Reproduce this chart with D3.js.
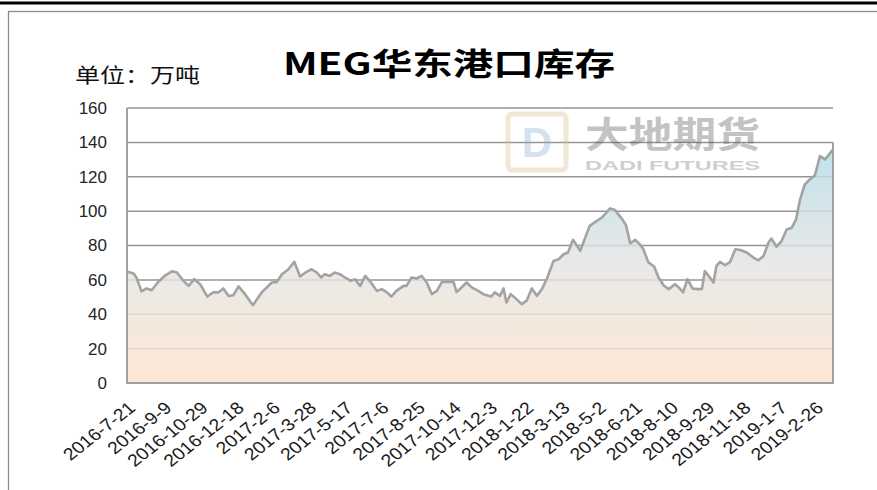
<!DOCTYPE html>
<html>
<head>
<meta charset="utf-8">
<script src="https://cdn.jsdelivr.net/npm/d3@7"></script>
<style>
  body { margin: 0; background: #fff; }
  svg { display: block; font-family: "Liberation Sans", "Noto Sans CJK SC", sans-serif; }
</style>
</head>
<body>
<script>
// MEG east china port inventory, 10k tons
var dates = [
  "2016-7-21","2016-7-30","2016-8-3","2016-8-10","2016-8-17","2016-8-24","2016-9-2","2016-9-11",
  "2016-9-21","2016-9-28","2016-10-7","2016-10-14","2016-10-22","2016-10-30","2016-11-9","2016-11-17",
  "2016-11-24","2016-12-1","2016-12-8","2016-12-15","2016-12-22","2016-12-31","2017-1-11","2017-1-23",
  "2017-2-6","2017-2-13","2017-2-20","2017-3-1","2017-3-9","2017-3-17","2017-3-26","2017-4-2",
  "2017-4-9","2017-4-15","2017-4-20","2017-4-27","2017-5-4","2017-5-11","2017-5-18","2017-5-26",
  "2017-6-1","2017-6-8","2017-6-15","2017-6-22","2017-7-1","2017-7-8","2017-7-15","2017-7-21",
  "2017-7-28","2017-8-7","2017-8-11","2017-8-18","2017-8-25","2017-9-1","2017-9-8","2017-9-15",
  "2017-9-22","2017-9-29","2017-10-8","2017-10-15","2017-10-19","2017-10-26","2017-11-2","2017-11-9",
  "2017-11-18","2017-11-25","2017-12-6","2017-12-11","2017-12-18","2017-12-23","2017-12-27","2018-1-2",
  "2018-1-10","2018-1-17","2018-1-24","2018-1-31","2018-2-7","2018-2-14","2018-2-21","2018-3-2",
  "2018-3-9","2018-3-16","2018-3-22","2018-3-29","2018-4-8","2018-4-14","2018-4-21","2018-5-1",
  "2018-5-8","2018-5-19","2018-5-26","2018-6-4","2018-6-10","2018-6-16","2018-6-23","2018-6-29",
  "2018-7-4","2018-7-11","2018-7-19","2018-7-25","2018-8-1","2018-8-8","2018-8-17","2018-8-22",
  "2018-8-28","2018-9-3","2018-9-10","2018-9-17","2018-9-23","2018-9-27","2018-10-4","2018-10-9",
  "2018-10-13","2018-10-18","2018-10-25","2018-11-1","2018-11-8","2018-11-15","2018-11-24","2018-12-3",
  "2018-12-10","2018-12-17","2018-12-24","2018-12-28","2019-1-4","2019-1-11","2019-1-18","2019-1-25",
  "2019-1-31","2019-2-5","2019-2-12","2019-2-19","2019-2-26","2019-3-5","2019-3-12","2019-3-23"
];
var stock = [
  64.9,63.7,61.4,53.3,55,54,58.8,62.3,
  65,64.3,59.4,56.5,60.4,57.5,50.3,52.7,
  52.7,55,50.7,51.1,56.2,51.7,45.3,52.7,
  58.5,58.8,63.3,66.2,70.5,62,64.7,66.2,
  64.3,61.4,63.3,62.3,64.3,63.3,61.4,59.4,
  60.4,56.5,62.3,59,53.6,54.6,52.7,50.3,
  53.6,56.5,56.5,61.4,60.8,62.3,58.5,51.7,
  53.6,58.8,58.8,58.8,53,55.6,58.5,55.6,
  53.6,51.7,50.3,52.7,50.7,55,46.9,51.7,
  48.8,45.9,47.9,55,50.7,54.6,60.8,71,
  72,74.9,75.9,83.3,76.9,83.7,91.4,94.4,
  96.3,101.6,100.6,95.8,92,81.3,83.3,80.8,
  77.9,70.2,67.8,61.4,56.9,54.6,57.5,55.6,
  52.7,60.4,55,54.6,54.6,65.2,61.4,58.5,
  68.1,70.5,68.5,70.5,77.8,77.4,75.9,73,
  71.4,73.9,81.7,84,79.3,82.6,89.3,90.3,
  95.2,105.9,115.5,118.4,120.8,132,130.1,135.8
];
var tickLabels = ["2016-7-21","2016-9-9","2016-10-29","2016-12-18","2017-2-6","2017-3-28","2017-5-17",
  "2017-7-6","2017-8-25","2017-10-14","2017-12-3","2018-1-22","2018-3-13","2018-5-2","2018-6-21",
  "2018-8-10","2018-9-29","2018-11-18","2019-1-7","2019-2-26"];
var yTicks = [0, 20, 40, 60, 80, 100, 120, 140, 160];

var w = 877, h = 490;
var plotL = 127, plotR = 833, plotT = 108, plotB = 383;
var parse = d3.timeParse("%Y-%m-%d");

var svg = d3.select("body").append("svg")
  .attr("width", w)
  .attr("height", h);

// frame
svg.append("line")
  .attr("x1", 0).attr("x2", w).attr("y1", 3).attr("y2", 3)
  .style("stroke", "#000").style("stroke-width", 3);
svg.append("rect")
  .attr("x", 8.5).attr("y", 11.5).attr("width", w + 10).attr("height", h)
  .style("fill", "none").style("stroke", "#8c8c8c").style("stroke-width", 1.3);

var x = d3.scaleTime()
  .domain([parse(dates[0]), parse(dates[dates.length - 1])])
  .range([plotL, plotR]);
var y = d3.scaleLinear()
  .domain([0, 160])
  .range([plotB, plotT]);

var data = dates.map(function(d, i){ return {date: parse(d), v: stock[i]}; });

// gradient fill
var grad = svg.append("defs").append("linearGradient")
  .attr("id", "fillGrad")
  .attr("gradientUnits", "userSpaceOnUse")
  .attr("x1", 0).attr("x2", 0)
  .attr("y1", y(140)).attr("y2", y(0));
grad.append("stop").attr("offset", "0").attr("stop-color", "#b2dae8");
grad.append("stop").attr("offset", "0.55").attr("stop-color", "#e7e5e2");
grad.append("stop").attr("offset", "1").attr("stop-color", "#fde2cb");

// gridlines
svg.append("g").selectAll("line")
  .data(yTicks.slice(1))
  .enter().append("line")
  .attr("x1", plotL).attr("x2", plotR)
  .attr("y1", function(d){ return y(d); })
  .attr("y2", function(d){ return y(d); })
  .style("stroke", "#959595")
  .style("stroke-width", 1.5);

// area
svg.append("path")
  .datum(data)
  .attr("d", d3.area()
    .x(function(d){ return x(d.date); })
    .y0(y(0))
    .y1(function(d){ return y(d.v); }))
  .style("fill", "url(#fillGrad)")
  .style("opacity", 0.82);

// line
svg.append("path")
  .datum(data)
  .attr("d", d3.line()
    .x(function(d){ return x(d.date); })
    .y(function(d){ return y(d.v); }))
  .style("fill", "none")
  .style("stroke", "#a3a3a3")
  .style("stroke-width", 2.6)
  .style("stroke-linejoin", "round");

// plot border (left, bottom, right)
svg.append("path")
  .attr("d", "M" + plotL + "," + plotT + "V" + plotB + "H" + plotR + "V" + y(140))
  .style("fill", "none")
  .style("stroke", "#a0a0a0")
  .style("stroke-width", 2);

// y axis labels
var yAxis = d3.axisLeft(y).tickValues(yTicks).tickSize(0).tickPadding(20);
var ya = svg.append("g")
  .attr("transform", "translate(" + plotL + ",0)")
  .call(yAxis);
ya.select(".domain").remove();
ya.selectAll("text")
  .style("font-size", "17px")
  .style("fill", "#262626")
  .style("font-family", "'Liberation Sans', sans-serif");

// x axis labels
svg.append("g").selectAll("text")
  .data(tickLabels)
  .enter().append("text")
  .attr("transform", function(d){
    return "translate(" + (x(parse(d)) + 5) + "," + (plotB + 22) + ") scale(1.15,1) rotate(-42)";
  })
  .attr("text-anchor", "end")
  .attr("dy", "0.35em")
  .style("font-size", "17px")
  .style("fill", "#1a1a1a")
  .text(function(d){ return d; });

// watermark
var wm = svg.append("g").style("opacity", 0.35);
wm.append("rect")
  .attr("x", 508).attr("y", 114).attr("width", 58).attr("height", 56).attr("rx", 4)
  .style("fill", "none").style("stroke", "#d6c08a").style("stroke-width", 5);
wm.append("text")
  .attr("x", 537).attr("y", 157).attr("text-anchor", "middle")
  .style("font-size", "42px").style("font-weight", "bold").style("fill", "#8aaccc")
  .text("D");
wm.append("text")
  .attr("x", 585).attr("y", 148)
  .attr("textLength", 175).attr("lengthAdjust", "spacingAndGlyphs")
  .style("font-size", "36px").style("font-weight", "bold").style("fill", "#555")
  .style("font-family", "'Noto Sans CJK SC', sans-serif")
  .text("大地期货");
wm.append("text")
  .attr("x", 585).attr("y", 170)
  .attr("textLength", 175).attr("lengthAdjust", "spacingAndGlyphs")
  .style("font-size", "13px").style("font-weight", "bold").style("fill", "#777")
  .text("DADI FUTURES");

// title
svg.append("text")
  .attr("x", 283).attr("y", 75)
  .attr("textLength", 332).attr("lengthAdjust", "spacingAndGlyphs")
  .style("font-size", "31px").style("font-weight", "bold").style("fill", "#000")
  .style("font-family", "'Noto Sans CJK SC', sans-serif")
  .text("MEG华东港口库存");

// unit
svg.append("text")
  .attr("x", 75).attr("y", 83)
  .attr("textLength", 125).attr("lengthAdjust", "spacingAndGlyphs")
  .style("font-size", "20px").style("fill", "#111")
  .style("font-family", "'Noto Sans CJK SC', sans-serif")
  .text("单位：万吨");
</script>
</body>
</html>
